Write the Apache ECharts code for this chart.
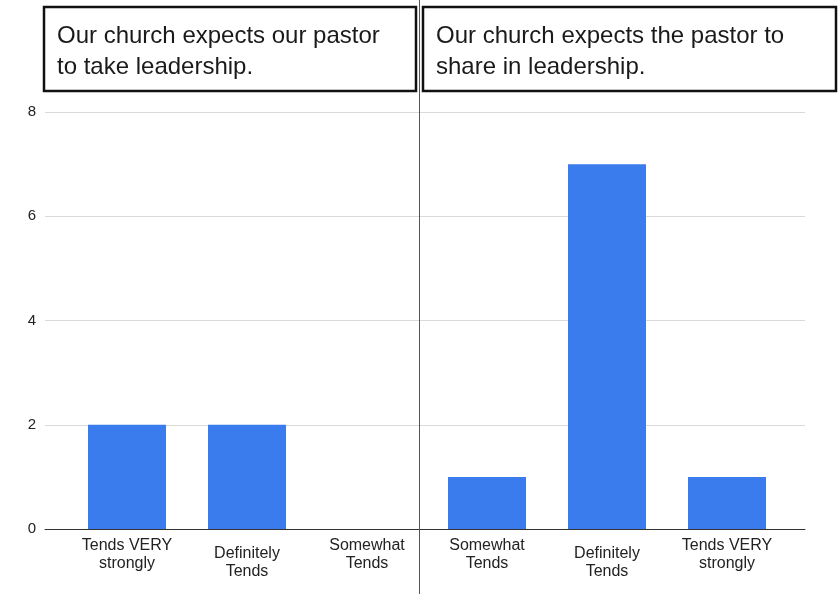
<!DOCTYPE html>
<html>
<head>
<meta charset="utf-8">
<script src="https://cdn.jsdelivr.net/npm/echarts@6/dist/echarts.min.js"></script>
<style>
  html, body { margin: 0; padding: 0; background: #fff; }
  #chart { width: 838px; height: 594px; }
</style>
</head>
<body>
<div id="chart"></div>
<script>
// Panel headings
var leftTitle = 'Our church expects our pastor\nto take leadership.';
var rightTitle = 'Our church expects the pastor to\nshare in leadership.';

// Response categories, left panel then right panel
var leftCategories = ['Tends VERY\nstrongly', 'Definitely\nTends', 'Somewhat\nTends'];
var rightCategories = ['Somewhat\nTends', 'Definitely\nTends', 'Tends VERY\nstrongly'];

// Counts per category
var leftValues = [2, 2, 0];
var rightValues = [1, 7, 1];

// Value axis ticks
var yTicks = [0, 2, 4, 6, 8];

var allLabels = leftCategories.concat(rightCategories);
var allValues = leftValues.concat(rightValues);

// unique category keys so repeated label texts stay separate slots
var catKeys = allLabels.map(function (_, i) { return 'c' + i; });
var catData = catKeys.map(function (k, i) {
  var item = { value: k };
  if (allLabels[i].indexOf('Definitely') === 0) {
    item.textStyle = { padding: [8, 0, 0, 0] };
  }
  return item;
});

var chart = echarts.init(document.getElementById('chart'), null, { renderer: 'canvas' });

var fontFamily = 'Liberation Sans, Arial, sans-serif';

chart.setOption({
  animation: false,
  backgroundColor: '#ffffff',
  grid: [
    { left: 45, right: 33, top: 112, bottom: 65 },
    { left: 67, right: 51, top: 112, bottom: 65 }
  ],
  xAxis: [
    {
      gridIndex: 0, type: 'value', min: 0, max: 1,
      axisLine: { show: true, onZero: true, lineStyle: { color: '#333', width: 1 } },
      axisTick: { show: false }, axisLabel: { show: false }, splitLine: { show: false }
    },
    {
      gridIndex: 1, type: 'category', data: catData,
      axisLine: { show: false }, axisTick: { show: false },
      axisLabel: {
        interval: 0, margin: 8,
        color: '#222', fontSize: 16, lineHeight: 18, fontFamily: fontFamily,
        formatter: function (v) { return allLabels[catKeys.indexOf(v)]; }
      }
    }
  ],
  yAxis: [
    {
      gridIndex: 0, type: 'value', min: yTicks[0], max: yTicks[yTicks.length - 1],
      interval: yTicks[1] - yTicks[0],
      axisLine: { show: false }, axisTick: { show: false },
      axisLabel: { color: '#222', fontSize: 15, margin: 9, fontFamily: fontFamily },
      splitLine: { show: true, lineStyle: { color: '#d9d9d9', width: 1 } }
    },
    {
      gridIndex: 1, type: 'value', min: yTicks[0], max: yTicks[yTicks.length - 1],
      show: false, splitLine: { show: false }
    }
  ],
  series: [
    {
      type: 'bar', xAxisIndex: 1, yAxisIndex: 1,
      data: allValues, barWidth: 78,
      itemStyle: { color: '#3a7bee' }
    }
  ],
  graphic: [
    {
      type: 'line', z: 10,
      shape: { x1: 419.5, y1: 0, x2: 419.5, y2: 594 },
      style: { stroke: '#555', lineWidth: 1 }
    },
    {
      type: 'rect', z: 20,
      shape: { x: 44, y: 7, width: 372, height: 84 },
      style: { fill: '#fff', stroke: '#111', lineWidth: 2.5 }
    },
    {
      type: 'text', z: 21, left: 57, top: 21,
      style: { text: leftTitle, fill: '#1a1a1a', font: '24px ' + fontFamily, lineHeight: 31 }
    },
    {
      type: 'rect', z: 20,
      shape: { x: 423, y: 7, width: 413, height: 84 },
      style: { fill: '#fff', stroke: '#111', lineWidth: 2.5 }
    },
    {
      type: 'text', z: 21, left: 436, top: 21,
      style: { text: rightTitle, fill: '#1a1a1a', font: '24px ' + fontFamily, lineHeight: 31 }
    }
  ]
});
</script>
</body>
</html>
